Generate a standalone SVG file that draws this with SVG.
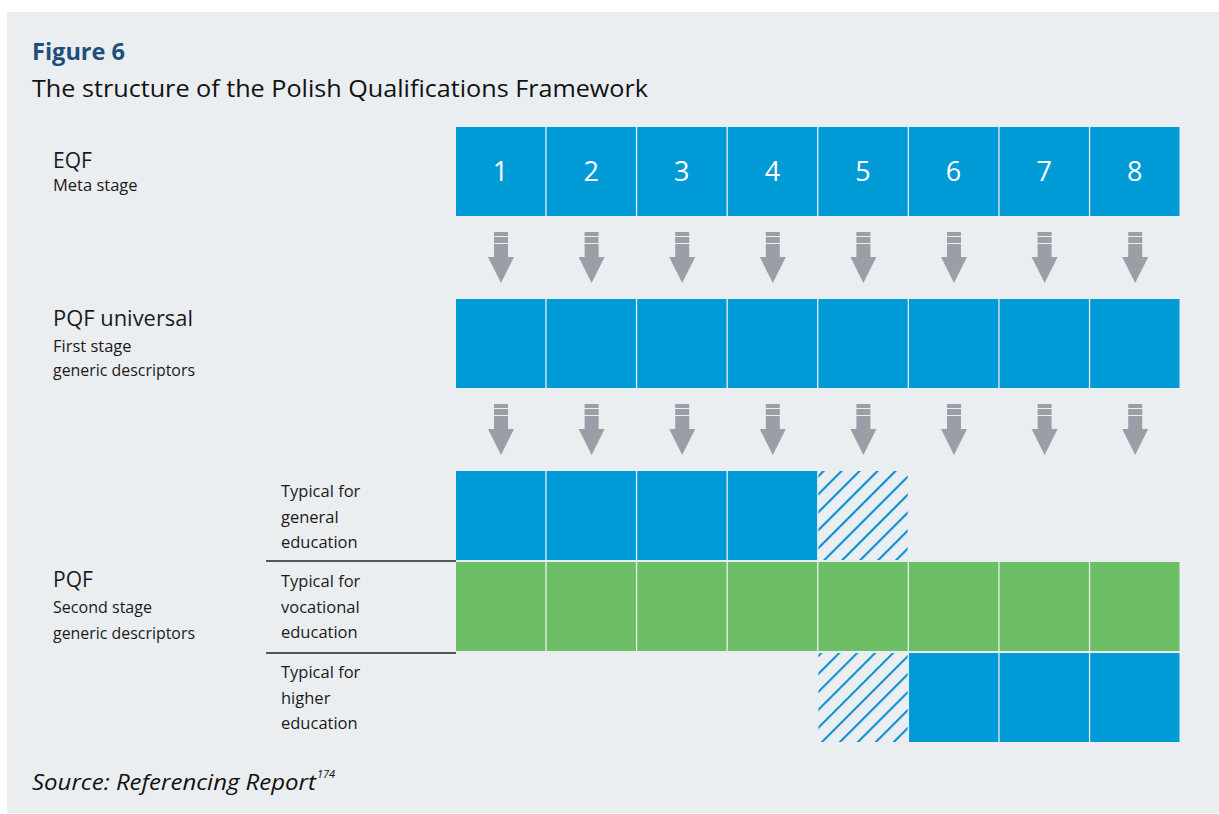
<svg xmlns="http://www.w3.org/2000/svg" width="1219" height="814" viewBox="0 0 1219 814">
<defs>
<style>
.bg{fill:#ffffff}
.panel{fill:#ebeef1}
.blue{fill:#009ad7}
.green{fill:#6dbf67}
.num{font-family:"Open Sans","Liberation Sans",sans-serif;font-size:27px;fill:#ffffff;text-anchor:middle}
.lbl{font-family:"Open Sans","Liberation Sans",sans-serif;fill:#1a1a1a}
.big{font-size:21px}
.small{font-size:16.5px}
.arrow{fill:#9b9ea6}
.sep{stroke:#555;stroke-width:2}
</style>
<pattern id="hatch" patternUnits="userSpaceOnUse" width="12.7" height="12.7" patternTransform="rotate(45)">
<line x1="1" y1="0" x2="1" y2="12.7" stroke="#0a8fd0" stroke-width="2.2"/>
</pattern>
<g id="arr">
<rect x="-7" y="0" width="14" height="4" class="arrow"/>
<rect x="-7" y="5" width="14" height="6" class="arrow"/>
<rect x="-7" y="12" width="14" height="14" class="arrow"/>
<polygon points="-13,25 13,25 0,51" class="arrow"/>
</g>
</defs>
<rect class="bg" x="0" y="0" width="1219" height="814"/>
<rect class="panel" x="7" y="12" width="1212" height="801"/>

<g id="title">
<text x="32" y="60" font-family="Open Sans, Liberation Sans, sans-serif" font-size="24" font-weight="bold" fill="#1d4f7c" textLength="93" lengthAdjust="spacingAndGlyphs">Figure 6</text>
<text x="32" y="97" font-family="Open Sans, Liberation Sans, sans-serif" font-size="24" fill="#111" textLength="616" lengthAdjust="spacingAndGlyphs">The structure of the Polish Qualifications Framework</text>
</g>

<g id="row-labels">
<text class="lbl big" x="53" y="168">EQF</text>
<text class="lbl small" x="53" y="191">Meta stage</text>
<text class="lbl big" x="53" y="326" textLength="140" lengthAdjust="spacingAndGlyphs">PQF universal</text>
<text class="lbl small" x="53" y="352">First stage</text>
<text class="lbl small" x="53" y="376" textLength="142" lengthAdjust="spacingAndGlyphs">generic descriptors</text>
<text class="lbl big" x="53" y="587">PQF</text>
<text class="lbl small" x="53" y="613" textLength="99" lengthAdjust="spacingAndGlyphs">Second stage</text>
<text class="lbl small" x="53" y="639" textLength="142" lengthAdjust="spacingAndGlyphs">generic descriptors</text>
</g>

<g id="sub-labels">
<text class="lbl small" x="281" y="497">Typical for</text>
<text class="lbl small" x="281" y="523">general</text>
<text class="lbl small" x="281" y="548">education</text>
<text class="lbl small" x="281" y="587">Typical for</text>
<text class="lbl small" x="281" y="613">vocational</text>
<text class="lbl small" x="281" y="638">education</text>
<text class="lbl small" x="281" y="678">Typical for</text>
<text class="lbl small" x="281" y="704">higher</text>
<text class="lbl small" x="281" y="729">education</text>
<line class="sep" x1="266" y1="561" x2="456" y2="561"/>
<line class="sep" x1="266" y1="653" x2="456" y2="653"/>
</g>

<g id="eqf">
<rect class="blue" x="456" y="127" width="89.3" height="89"/>
<rect class="blue" x="546.6" y="127" width="89.3" height="89"/>
<rect class="blue" x="637.2" y="127" width="89.3" height="89"/>
<rect class="blue" x="727.8" y="127" width="89.3" height="89"/>
<rect class="blue" x="818.4" y="127" width="89.3" height="89"/>
<rect class="blue" x="909" y="127" width="89.3" height="89"/>
<rect class="blue" x="999.6" y="127" width="89.3" height="89"/>
<rect class="blue" x="1090.2" y="127" width="89.3" height="89"/>
<text class="num" x="500.6" y="181">1</text>
<text class="num" x="591.2" y="181">2</text>
<text class="num" x="681.8" y="181">3</text>
<text class="num" x="772.4" y="181">4</text>
<text class="num" x="863" y="181">5</text>
<text class="num" x="953.6" y="181">6</text>
<text class="num" x="1044.2" y="181">7</text>
<text class="num" x="1134.8" y="181">8</text>
</g>

<g id="pqf-universal">
<rect class="blue" x="456" y="299" width="89.3" height="89"/>
<rect class="blue" x="546.6" y="299" width="89.3" height="89"/>
<rect class="blue" x="637.2" y="299" width="89.3" height="89"/>
<rect class="blue" x="727.8" y="299" width="89.3" height="89"/>
<rect class="blue" x="818.4" y="299" width="89.3" height="89"/>
<rect class="blue" x="909" y="299" width="89.3" height="89"/>
<rect class="blue" x="999.6" y="299" width="89.3" height="89"/>
<rect class="blue" x="1090.2" y="299" width="89.3" height="89"/>
</g>

<g id="general">
<rect class="blue" x="456" y="471" width="89.3" height="89"/>
<rect class="blue" x="546.6" y="471" width="89.3" height="89"/>
<rect class="blue" x="637.2" y="471" width="89.3" height="89"/>
<rect class="blue" x="727.8" y="471" width="89.3" height="89"/>
<rect fill="url(#hatch)" x="818.4" y="471" width="89.3" height="89"/>
</g>

<g id="vocational">
<rect class="green" x="456" y="562" width="89.3" height="89"/>
<rect class="green" x="546.6" y="562" width="89.3" height="89"/>
<rect class="green" x="637.2" y="562" width="89.3" height="89"/>
<rect class="green" x="727.8" y="562" width="89.3" height="89"/>
<rect class="green" x="818.4" y="562" width="89.3" height="89"/>
<rect class="green" x="909" y="562" width="89.3" height="89"/>
<rect class="green" x="999.6" y="562" width="89.3" height="89"/>
<rect class="green" x="1090.2" y="562" width="89.3" height="89"/>
</g>

<g id="higher">
<rect fill="url(#hatch)" x="818.4" y="653" width="89.3" height="89"/>
<rect class="blue" x="909" y="653" width="89.3" height="89"/>
<rect class="blue" x="999.6" y="653" width="89.3" height="89"/>
<rect class="blue" x="1090.2" y="653" width="89.3" height="89"/>
</g>

<g id="connectors">
<use href="#arr" x="501" y="232"/>
<use href="#arr" x="591.6" y="232"/>
<use href="#arr" x="682.2" y="232"/>
<use href="#arr" x="772.8" y="232"/>
<use href="#arr" x="863.4" y="232"/>
<use href="#arr" x="954" y="232"/>
<use href="#arr" x="1044.6" y="232"/>
<use href="#arr" x="1135.2" y="232"/>
<use href="#arr" x="501" y="404"/>
<use href="#arr" x="591.6" y="404"/>
<use href="#arr" x="682.2" y="404"/>
<use href="#arr" x="772.8" y="404"/>
<use href="#arr" x="863.4" y="404"/>
<use href="#arr" x="954" y="404"/>
<use href="#arr" x="1044.6" y="404"/>
<use href="#arr" x="1135.2" y="404"/>
</g>

<g id="source">
<text x="32" y="790" font-family="Open Sans, Liberation Sans, sans-serif" font-size="21" font-style="italic" fill="#111" textLength="284" lengthAdjust="spacingAndGlyphs">Source: Referencing Report</text>
<text x="317" y="778" font-family="Open Sans, Liberation Sans, sans-serif" font-size="11" font-style="italic" fill="#111">174</text>
</g>
</svg>
